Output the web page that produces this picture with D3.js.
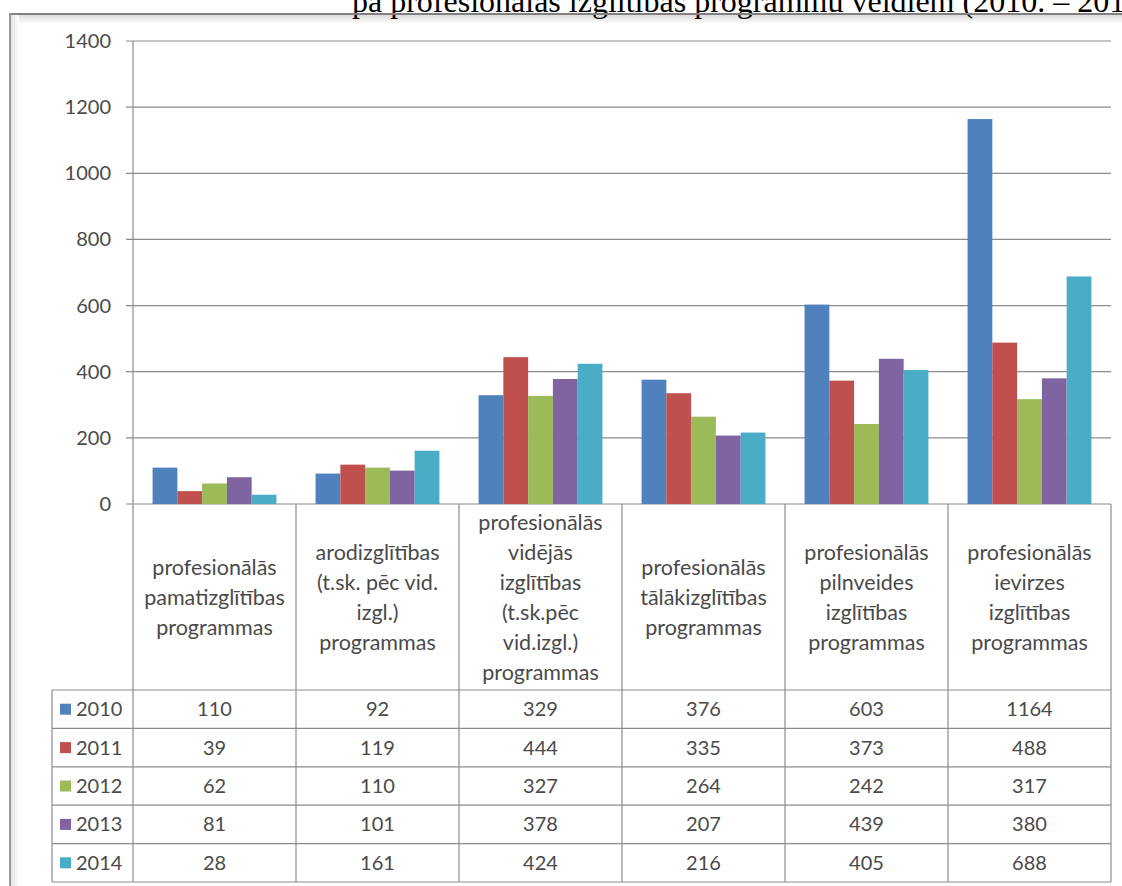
<!DOCTYPE html>
<html><head><meta charset="utf-8">
<script src="https://cdn.jsdelivr.net/npm/d3@7"></script>
<style>
html,body{margin:0;padding:0;background:#fff;overflow:hidden}
svg{display:block}
</style></head>
<body>
<script>
const titleText = "pa profesionālās izglītības programmu veidiem (2010. – 2014.)";
const categories = [
  ["profesionālās","pamatizglītības","programmas"],
  ["arodizglītības","(t.sk. pēc vid.","izgl.)","programmas"],
  ["profesionālās","vidējās","izglītības","(t.sk.pēc","vid.izgl.)","programmas"],
  ["profesionālās","tālākizglītības","programmas"],
  ["profesionālās","pilnveides","izglītības","programmas"],
  ["profesionālās","ievirzes","izglītības","programmas"]
];
const years = ["2010","2011","2012","2013","2014"];
const v2010 = [110, 92, 329, 376, 603, 1164];
const v2011 = [39, 119, 444, 335, 373, 488];
const v2012 = [62, 110, 327, 264, 242, 317];
const v2013 = [81, 101, 378, 207, 439, 380];
const v2014 = [28, 161, 424, 216, 405, 688];
const seriesValues = [v2010, v2011, v2012, v2013, v2014];
const colors = ["#4F81BD","#C0504D","#9BBB59","#8064A2","#4BACC6"];
const yTicks = [0,200,400,600,800,1000,1200,1400];

const W = 1122, H = 886;
const svg = d3.select("body").append("svg").attr("width", W).attr("height", H);
const font = "Lato, 'Open Sans', sans-serif";

// shadow/frame
const defs = svg.append("defs");
const g1 = defs.append("linearGradient").attr("id","shTop").attr("x1",0).attr("y1",0).attr("x2",0).attr("y2",1);
g1.append("stop").attr("offset","0%").attr("stop-color","#d8d8d8");
g1.append("stop").attr("offset","100%").attr("stop-color","#ffffff");
const g2 = defs.append("linearGradient").attr("id","shLeft").attr("x1",0).attr("y1",0).attr("x2",1).attr("y2",0);
g2.append("stop").attr("offset","0%").attr("stop-color","#e4e4e4");
g2.append("stop").attr("offset","100%").attr("stop-color","#ffffff");

svg.append("rect").attr("x",11).attr("y",14).attr("width",W-11).attr("height",10).attr("fill","url(#shTop)");
svg.append("rect").attr("x",11).attr("y",14).attr("width",8).attr("height",H-14).attr("fill","url(#shLeft)");

// title (clipped at top and right like reference)
svg.append("text").attr("x",352).attr("y",12)
  .attr("font-family","'Liberation Serif','Times New Roman',serif")
  .attr("font-size",32).attr("fill","#000").text(titleText);

svg.append("line").attr("x1",10).attr("x2",W).attr("y1",14).attr("y2",14).attr("stroke","#808080").attr("stroke-width",2);
svg.append("line").attr("x1",10).attr("x2",10).attr("y1",13).attr("y2",H).attr("stroke","#9a9a9a").attr("stroke-width",2);

const plotLeft = 133, plotRight = 1111, y0 = 504, yTop = 41;
const x0 = d3.scaleBand().domain(d3.range(categories.length)).range([plotLeft, plotRight]).paddingInner(0).paddingOuter(0);
const x1 = d3.scaleBand().domain(years).range([0, x0.bandwidth()]).paddingInner(0).paddingOuter(0.79);
const y = d3.scaleLinear().domain([0,1400]).range([y0, yTop]);

// gridlines
svg.append("g").selectAll("line").data(yTicks).join("line")
  .attr("x1", plotLeft - 7).attr("x2", plotRight)
  .attr("y1", d => y(d)).attr("y2", d => y(d))
  .attr("stroke", "#8c8c8c").attr("stroke-width", 1.2);

// y axis line
svg.append("line").attr("x1",plotLeft).attr("x2",plotLeft).attr("y1",yTop).attr("y2",882)
  .attr("stroke","#8c8c8c").attr("stroke-width",1.2);

// y labels
svg.append("g").selectAll("text").data(yTicks).join("text")
  .attr("x", 111).attr("y", d => y(d)).attr("dy","0.35em")
  .attr("text-anchor","end").attr("font-family",font).attr("font-size",20)
  .attr("fill","#4a4a4a").text(d => d);

// bars
const groups = svg.append("g").selectAll("g").data(categories).join("g")
  .attr("transform", (d,i) => `translate(${x0(i)},0)`);
groups.selectAll("rect").data((d,i) => years.map((yr,s) => ({yr, s, v: seriesValues[s][i]})))
  .join("rect")
  .attr("x", d => x1(d.yr)).attr("width", x1.bandwidth())
  .attr("y", d => y(d.v)).attr("height", d => y0 - y(d.v))
  .attr("fill", d => colors[d.s]);

// table / category area lines
const tableTop = 690, tableBottom = 882, legendLeft = 52;
const rowH = (tableBottom - tableTop) / years.length;
const lineColor = "#8c8c8c";
const tl = svg.append("g").attr("stroke", lineColor).attr("stroke-width", 1.2);
const bounds = d3.range(categories.length + 1).map(i => i < categories.length ? x0(i) : plotRight);
tl.selectAll(".v").data(bounds.slice(1)).join("line").attr("class","v")
  .attr("x1", d => d).attr("x2", d => d).attr("y1", y0).attr("y2", tableBottom);
tl.append("line").attr("x1",legendLeft).attr("x2",legendLeft).attr("y1",tableTop).attr("y2",tableBottom);
tl.selectAll(".h").data(d3.range(years.length + 1)).join("line").attr("class","h")
  .attr("x1", legendLeft).attr("x2", plotRight)
  .attr("y1", i => tableTop + i * rowH).attr("y2", i => tableTop + i * rowH);

// category labels
const lineH = 30;
svg.append("g").selectAll("text").data(categories).join("text")
  .attr("text-anchor","middle").attr("font-family",font).attr("font-size",21.5).attr("fill","#4a4a4a")
  .attr("transform", (d,i) => `translate(${x0(i) + x0.bandwidth()/2},${(y0 + tableTop)/2 - (d.length-1)*lineH/2})`)
  .each(function(d){
    d3.select(this).selectAll("tspan").data(d).join("tspan")
      .attr("x",0).attr("y",(t,j) => j*lineH).attr("dy","0.35em").text(t => t);
  });

// table rows
years.forEach((yr, s) => {
  const cy = tableTop + (s + 0.5) * rowH;
  svg.append("rect").attr("x", 60).attr("y", cy - 5.5).attr("width", 11).attr("height", 11).attr("fill", colors[s]);
  svg.append("text").attr("x", 76).attr("y", cy).attr("dy","0.35em")
    .attr("font-family",font).attr("font-size",20).attr("fill","#4a4a4a").text(yr);
  svg.append("g").selectAll("text").data(seriesValues[s]).join("text")
    .attr("x", (d,i) => x0(i) + x0.bandwidth()/2).attr("y", cy).attr("dy","0.35em")
    .attr("text-anchor","middle").attr("font-family",font).attr("font-size",20).attr("fill","#4a4a4a")
    .text(d => d);
});
</script>
</body></html>
